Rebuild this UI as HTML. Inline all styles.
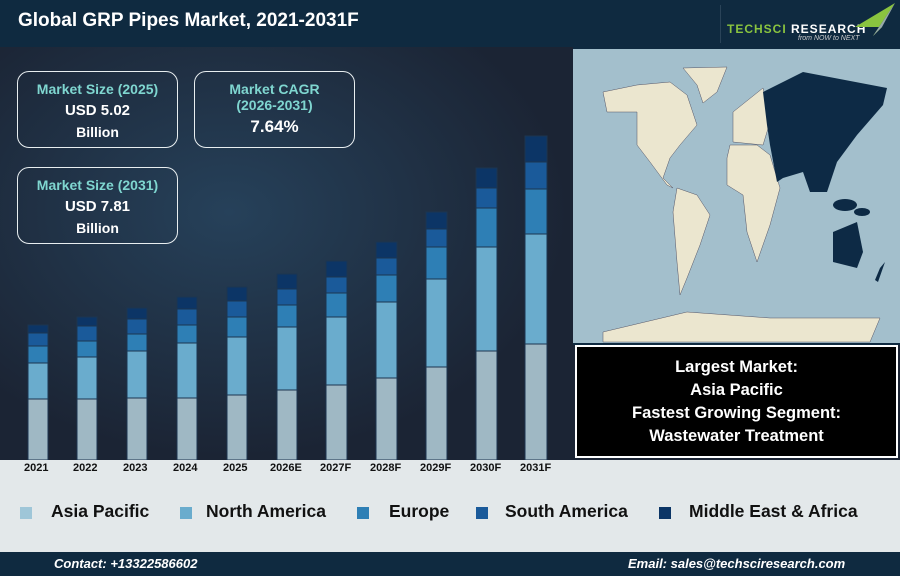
<!DOCTYPE html>
<html><head><style>
body{margin:0;width:900px;height:576px;overflow:hidden;font-family:"Liberation Sans",sans-serif;position:relative;background:#1b2434}
.a{position:absolute}
.box{position:absolute;border:1.5px solid #e8eef0;border-radius:12px;text-align:center;color:#fff;font-weight:bold;box-sizing:border-box}
.box .t{color:#7fd6d0;font-size:14px}
.leg{position:absolute;top:501px;font-size:17.5px;font-weight:bold;color:#111}
.sq{position:absolute;top:507px;width:12px;height:12px}
</style></head><body>
<div class="a" style="left:0;top:0;width:900px;height:47px;background:#0f2a40"></div>
<div class="a" style="left:18px;top:10px;color:#fff;font-size:19px;font-weight:bold">Global GRP Pipes Market, 2021-2031F</div>
<div class="a" style="left:720px;top:5px;width:1px;height:38px;background:#2a4358"></div>
<div class="a" style="left:727px;top:22px;font-size:12px;font-weight:bold;color:#8ac43f;letter-spacing:1px">TECHSCI <span style="color:#fff">RESEARCH</span></div>
<div class="a" style="left:798px;top:35px;font-size:7px;font-style:italic;color:#ccc">from NOW to NEXT</div>
<svg class="a" style="left:840px;top:2px" width="60" height="36"><polygon points="55,1 15,25 42,25 33,34" fill="#8ac43f"/><polygon points="42,25 55,1 33,34" fill="#9aa"/></svg>
<div class="a" style="left:0;top:47px;width:573px;height:413px;background:radial-gradient(ellipse at 40% 40%,#26415a,#1b2434 70%)"></div>
<svg class="a" style="left:0;top:0" width="573" height="460">
<g stroke="#1c3550" stroke-width="1">
<rect x="28" y="399" width="20" height="61" fill="#9fb8c4"/><rect x="28" y="363" width="20" height="36" fill="#6aaccd"/><rect x="28" y="346" width="20" height="17" fill="#2e7fb5"/><rect x="28" y="333" width="20" height="13" fill="#1a5a9a"/><rect x="28" y="325" width="20" height="8" fill="#0c3566"/>
<rect x="77" y="399" width="20" height="61" fill="#9fb8c4"/><rect x="77" y="357" width="20" height="42" fill="#6aaccd"/><rect x="77" y="341" width="20" height="16" fill="#2e7fb5"/><rect x="77" y="326" width="20" height="15" fill="#1a5a9a"/><rect x="77" y="317" width="20" height="9" fill="#0c3566"/>
<rect x="127" y="398" width="20" height="62" fill="#9fb8c4"/><rect x="127" y="351" width="20" height="47" fill="#6aaccd"/><rect x="127" y="334" width="20" height="17" fill="#2e7fb5"/><rect x="127" y="319" width="20" height="15" fill="#1a5a9a"/><rect x="127" y="308" width="20" height="11" fill="#0c3566"/>
<rect x="177" y="398" width="20" height="62" fill="#9fb8c4"/><rect x="177" y="343" width="20" height="55" fill="#6aaccd"/><rect x="177" y="325" width="20" height="18" fill="#2e7fb5"/><rect x="177" y="309" width="20" height="16" fill="#1a5a9a"/><rect x="177" y="297" width="20" height="12" fill="#0c3566"/>
<rect x="227" y="395" width="20" height="65" fill="#9fb8c4"/><rect x="227" y="337" width="20" height="58" fill="#6aaccd"/><rect x="227" y="317" width="20" height="20" fill="#2e7fb5"/><rect x="227" y="301" width="20" height="16" fill="#1a5a9a"/><rect x="227" y="287" width="20" height="14" fill="#0c3566"/>
<rect x="277" y="390" width="20" height="70" fill="#9fb8c4"/><rect x="277" y="327" width="20" height="63" fill="#6aaccd"/><rect x="277" y="305" width="20" height="22" fill="#2e7fb5"/><rect x="277" y="289" width="20" height="16" fill="#1a5a9a"/><rect x="277" y="274" width="20" height="15" fill="#0c3566"/>
<rect x="326" y="385" width="21" height="75" fill="#9fb8c4"/><rect x="326" y="317" width="21" height="68" fill="#6aaccd"/><rect x="326" y="293" width="21" height="24" fill="#2e7fb5"/><rect x="326" y="277" width="21" height="16" fill="#1a5a9a"/><rect x="326" y="261" width="21" height="16" fill="#0c3566"/>
<rect x="376" y="378" width="21" height="82" fill="#9fb8c4"/><rect x="376" y="302" width="21" height="76" fill="#6aaccd"/><rect x="376" y="275" width="21" height="27" fill="#2e7fb5"/><rect x="376" y="258" width="21" height="17" fill="#1a5a9a"/><rect x="376" y="242" width="21" height="16" fill="#0c3566"/>
<rect x="426" y="367" width="21" height="93" fill="#9fb8c4"/><rect x="426" y="279" width="21" height="88" fill="#6aaccd"/><rect x="426" y="247" width="21" height="32" fill="#2e7fb5"/><rect x="426" y="229" width="21" height="18" fill="#1a5a9a"/><rect x="426" y="212" width="21" height="17" fill="#0c3566"/>
<rect x="476" y="351" width="21" height="109" fill="#9fb8c4"/><rect x="476" y="247" width="21" height="104" fill="#6aaccd"/><rect x="476" y="208" width="21" height="39" fill="#2e7fb5"/><rect x="476" y="188" width="21" height="20" fill="#1a5a9a"/><rect x="476" y="168" width="21" height="20" fill="#0c3566"/>
<rect x="525" y="344" width="22" height="116" fill="#9fb8c4"/><rect x="525" y="234" width="22" height="110" fill="#6aaccd"/><rect x="525" y="189" width="22" height="45" fill="#2e7fb5"/><rect x="525" y="162" width="22" height="27" fill="#1a5a9a"/><rect x="525" y="136" width="22" height="26" fill="#0c3566"/>
</g></svg>
<div class="box" style="left:17px;top:71px;width:161px;height:77px;padding-top:9px"><div class="t">Market Size (2025)</div><div style="font-size:15px;margin-top:5px">USD 5.02</div><div style="font-size:14px;margin-top:5px">Billion</div></div>
<div class="box" style="left:194px;top:71px;width:161px;height:77px;padding-top:9px"><div class="t">Market CAGR<br>(2026-2031)</div><div style="font-size:17px;margin-top:4px">7.64%</div></div>
<div class="box" style="left:17px;top:167px;width:161px;height:77px;padding-top:9px"><div class="t">Market Size (2031)</div><div style="font-size:15px;margin-top:5px">USD 7.81</div><div style="font-size:14px;margin-top:5px">Billion</div></div>
<div class="a" style="left:0;top:460px;width:900px;height:92px;background:#e3e8ea"></div>
<div class="a" style="left:0;top:462px;width:573px;font-size:11px;font-weight:bold;color:#111">
<span class="a" style="left:24px">2021</span><span class="a" style="left:73px">2022</span><span class="a" style="left:123px">2023</span><span class="a" style="left:173px">2024</span><span class="a" style="left:223px">2025</span><span class="a" style="left:270px">2026E</span><span class="a" style="left:320px">2027F</span><span class="a" style="left:370px">2028F</span><span class="a" style="left:420px">2029F</span><span class="a" style="left:470px">2030F</span><span class="a" style="left:520px">2031F</span></div>
<div class="sq" style="left:20px;background:#9fc6d8"></div><div class="leg" style="left:51px">Asia Pacific</div>
<div class="sq" style="left:180px;background:#6aaccd"></div><div class="leg" style="left:206px">North America</div>
<div class="sq" style="left:357px;background:#2e7fb5"></div><div class="leg" style="left:389px">Europe</div>
<div class="sq" style="left:476px;background:#1a5a9a"></div><div class="leg" style="left:505px">South America</div>
<div class="sq" style="left:659px;background:#0c3566"></div><div class="leg" style="left:689px">Middle East &amp; Africa</div>
<div class="a" style="left:0;top:552px;width:900px;height:24px;background:#0f2a40"></div>
<div class="a" style="left:54px;top:556px;color:#fff;font-size:13px;font-weight:bold;font-style:italic">Contact: +13322586602</div>
<div class="a" style="left:628px;top:556px;color:#fff;font-size:13px;font-weight:bold;font-style:italic">Email: sales@techsciresearch.com</div>
<svg class="a" style="left:573px;top:47px" width="327" height="298" viewBox="573 47 327 298">
<rect x="573" y="47" width="327" height="298" fill="#0f2a40"/>
<rect x="573" y="49" width="327" height="294" fill="#a3bfcc"/>
<g fill="#ebe6cf" stroke="#556" stroke-width="0.5">
<polygon points="603,92 637,85 670,82 687,95 697,125 680,145 670,158 663,178 673,188 667,185 650,162 637,145 637,112 607,112"/>
<polygon points="683,68 727,67 717,92 703,103 697,85"/>
<polygon points="677,188 697,195 710,215 700,245 687,278 680,295 677,262 673,212"/>
<polygon points="733,112 763,88 770,122 763,145 733,142"/>
<polygon points="730,145 757,145 770,155 780,188 770,225 757,262 747,232 743,195 727,185 727,158"/>
<polygon points="603,332 687,312 770,318 880,318 870,342 603,342"/>
</g>
<g fill="#0d2a45">
<polygon points="763,92 803,72 887,88 883,105 857,135 837,162 827,192 810,192 803,172 783,178 777,182 770,145 767,125"/>
<ellipse cx="845" cy="205" rx="12" ry="6"/><ellipse cx="862" cy="212" rx="8" ry="4"/>
<polygon points="833,232 857,222 863,252 857,268 833,262"/>
<polygon points="880,268 885,262 878,282 875,280"/>
</g>
</svg>
<div class="a" style="left:575px;top:345px;width:323px;height:113px;background:#000;border:2px solid #fff;box-sizing:border-box;color:#fff;font-weight:bold;font-size:16.5px;text-align:center;line-height:23px;padding-top:9px">Largest Market:<br>Asia Pacific<br>Fastest Growing Segment:<br>Wastewater Treatment</div>
</body></html>
